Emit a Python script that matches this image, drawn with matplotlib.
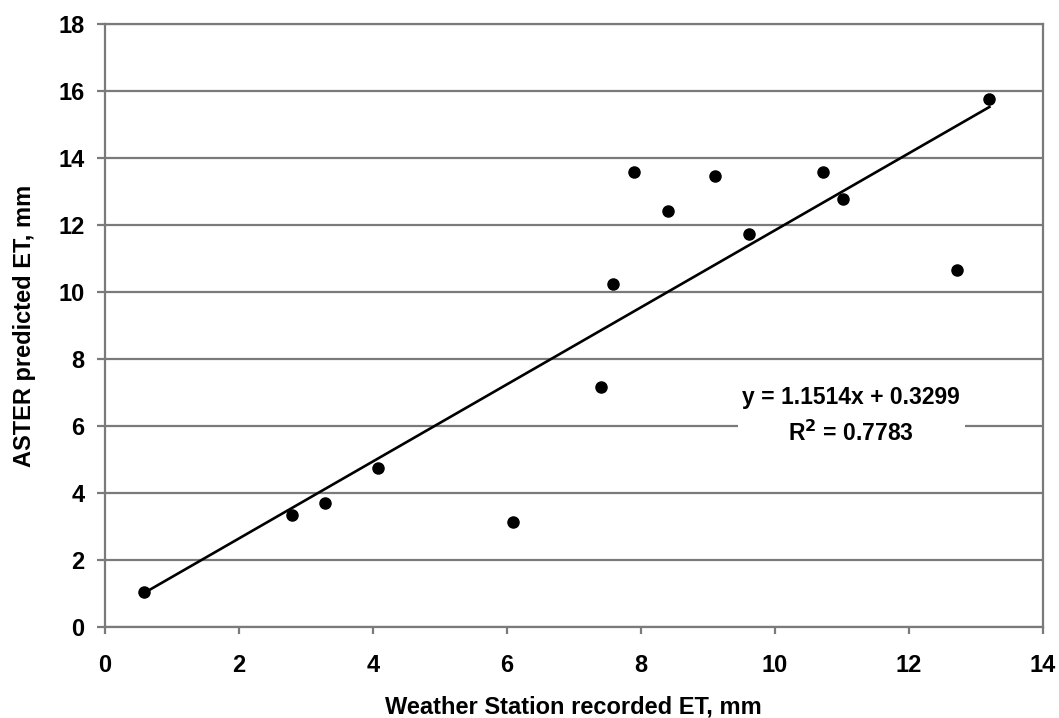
import matplotlib
matplotlib.use("Agg")
import matplotlib.pyplot as plt
from matplotlib.patches import Rectangle
import numpy as np

# Data
station_et = [0.59, 2.79, 3.29, 4.08, 6.09, 7.40, 7.59, 7.90, 8.40, 9.10, 9.61, 10.71, 11.01, 12.71, 13.20]
aster_et   = [1.03, 3.35, 3.70, 4.74, 3.13, 7.15, 10.24, 13.58, 12.41, 13.46, 11.73, 13.59, 12.77, 10.66, 15.76]
slope = 1.1514
intercept = 0.3299
r_squared = 0.7783
x_ticks = [0, 2, 4, 6, 8, 10, 12, 14]
y_ticks = [0, 2, 4, 6, 8, 10, 12, 14, 16, 18]

plt.rcParams['font.family'] = ['Liberation Sans', 'DejaVu Sans']
plt.rcParams['font.weight'] = 'bold'

fig = plt.figure(figsize=(10.59, 7.18), dpi=100)
ax = fig.add_axes([0.0989, 0.1272, 0.8860, 0.8390])

grid_color = '#7a7a7a'
ax.set_xlim(0, 14)
ax.set_ylim(0, 18)
ax.set_xticks(x_ticks)
ax.set_yticks(y_ticks)
ax.yaxis.grid(True, color=grid_color, linewidth=1.6, zorder=0)
ax.set_axisbelow(True)
for s in ax.spines.values():
    s.set_color(grid_color)
    s.set_linewidth(1.6)

ax.tick_params(axis='x', direction='out', length=5, width=1.6, color=grid_color,
               pad=15, labelsize=17)
ax.tick_params(axis='y', direction='out', length=5.5, width=1.6, color=grid_color,
               pad=9, labelsize=17)
for lbl in ax.get_xticklabels() + ax.get_yticklabels():
    lbl.set_fontweight('bold')

# trend line
xs = np.array([min(station_et), max(station_et)])
ax.plot(xs, slope * xs + intercept, color='black', linewidth=1.9, zorder=3)

ax.scatter(station_et, aster_et, s=64, color='black', zorder=4)

# white label background covering the gridline
ax.add_patch(Rectangle((9.45, 5.25), 3.39, 2.15, facecolor='white', edgecolor='none', zorder=2))
ax.text(11.13, 6.86, f"y = {slope}x + {intercept}", ha='center', va='center',
        fontsize=16.5, fontweight='bold', zorder=5)
ax.text(11.13, 5.79, f"R$^{{2}}$ = {r_squared}", ha='center', va='center',
        fontsize=16.5, fontweight='bold', zorder=5)

ax.set_xlabel("Weather Station recorded ET, mm", fontsize=17, fontweight='bold', labelpad=13)
ax.set_ylabel("ASTER predicted ET, mm", fontsize=17, fontweight='bold', labelpad=16)

fig.savefig("out.png", dpi=100)
